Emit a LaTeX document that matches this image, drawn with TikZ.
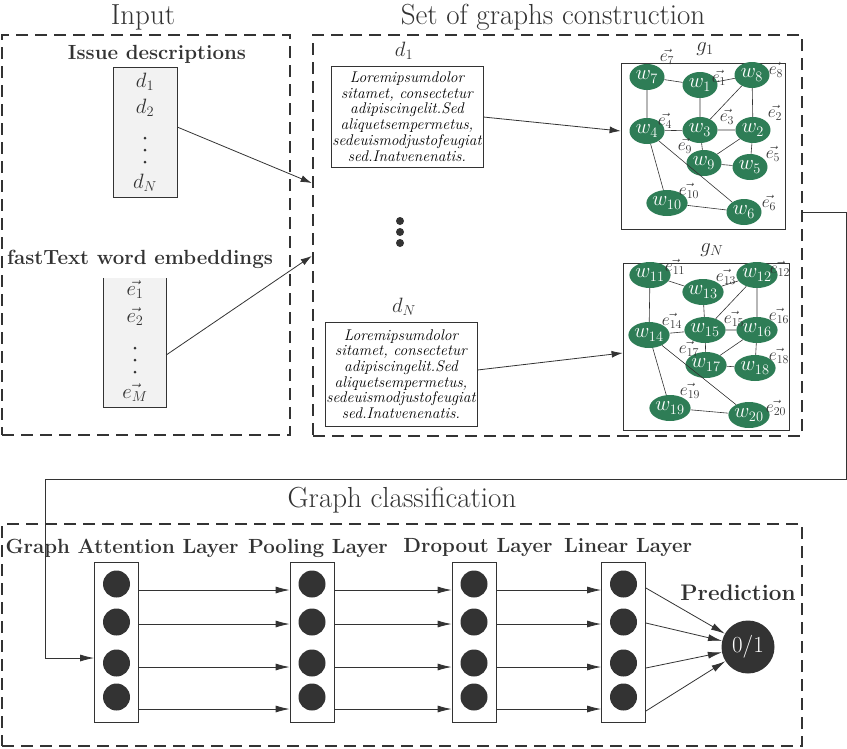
\documentclass[tikz,border=0pt]{standalone}
\usetikzlibrary{arrows.meta,shapes.geometric}
\definecolor{gnode}{RGB}{46,125,86}
\definecolor{dark}{RGB}{51,51,51}
\definecolor{lightfill}{RGB}{242,242,242}
\begin{document}
\begin{tikzpicture}[x=1pt,y=-1pt,
  dashbox/.style={draw=dark, line width=2.6pt, dash pattern=on 12pt off 7pt, inner sep=0pt},
  ttl/.style={font=\fontsize{29}{33}\selectfont, text=dark, inner sep=0pt},
  bl/.style={font=\bfseries\fontsize{20.5}{24}\selectfont, text=dark, inner sep=0pt},
  ml/.style={font=\fontsize{20}{22}\selectfont, text=dark, inner sep=0pt},
  wn/.style={ellipse, fill=gnode, text=white, minimum width=35pt, minimum height=26pt, inner sep=0pt, font=\fontsize{21}{22}\selectfont},
  el/.style={font=\fontsize{17}{17}\selectfont, inner sep=0pt, text=dark},
  ge/.style={draw=dark, line width=0.6pt},
  gbox/.style={draw=dark, line width=0.8pt, inner sep=0pt},
  lorem/.style={draw=dark, line width=0.8pt, align=center, inner sep=0pt, font=\itshape\fontsize{15.5}{15.7}\selectfont},
  listbox/.style={fill=lightfill, inner sep=0pt},
  arr/.style={draw=dark, line width=0.8pt, -{Latex[length=11pt,width=7pt]}},
  barr/.style={draw=dark, line width=0.8pt, -{Latex[length=14pt,width=7pt]}},
  layer/.style={draw=dark, line width=0.8pt, minimum width=44pt, minimum height=160pt, inner sep=0pt},
  neuron/.style={circle, fill=dark, minimum size=27pt, inner sep=0pt},
]
\useasboundingbox (0,0) rectangle (847,748);

% ---------- Input ----------
\node[ttl] (tin) at (143,17) {Input};
\node[dashbox, minimum width=288pt, minimum height=400pt] (inbox) at (146,235) {};
\node[bl] (tissue) at (157,54) {Issue descriptions};
\node[listbox, minimum width=63pt, minimum height=129pt] (dbox) at (145.5,132.5) {};
\draw[dark, line width=0.8pt] (dbox.north west) rectangle (dbox.south east);
\node[ml] (d1) at (145,82) {$d_1$};
\node[ml] (d2) at (145,108) {$d_2$};
\fill[dark] (145,138) circle (1.5) (145,150) circle (1.5) (145,162) circle (1.5);
\node[ml] (dn) at (145,183) {$d_N$};

\node[bl] (tfast) at (140,259) {fastText word embeddings};
\node[listbox, minimum width=62pt, minimum height=129pt] (ebox) at (135,342.5) {};
\draw[dark, line width=0.8pt] (ebox.north west) -- (ebox.south west) -- (ebox.south east) -- (ebox.north east);
\node[ml] (e1) at (135,290) {$\vec{e_1}$};
\node[ml] (e2) at (135,317) {$\vec{e_2}$};
\fill[dark] (135,348) circle (1.5) (135,360) circle (1.5) (135,372) circle (1.5);
\node[ml] (em) at (135,393) {$\vec{e_M}$};

% ---------- Set of graphs ----------
\node[ttl] (tset) at (553,17) {Set of graphs construction};
\node[dashbox, minimum width=489pt, minimum height=401pt] (sog) at (557.5,235.5) {};

\node[ml] (ld1) at (404,51) {$d_1$};
\node[lorem, minimum width=152pt, minimum height=101pt] (txt1) at (407,116.5)
  {Loremipsumdolor\\sitamet, consectetur\\adipiscingelit.Sed\\aliquetsempermetus,\\sedeuismodjustofeugiat\\sed.Inatvenenatis.};
\node[ml] (ldn) at (404,307) {$d_N$};
\node[lorem, minimum width=152pt, minimum height=104pt] (txtn) at (401,374)
  {Loremipsumdolor\\sitamet, consectetur\\adipiscingelit.Sed\\aliquetsempermetus,\\sedeuismodjustofeugiat\\sed.Inatvenenatis.};
\fill[dark] (400,221) circle (4) (400,232) circle (4) (400,243) circle (4);

% graph g1
\node[ml] (lg1) at (705,49) {$g_1$};
\node[gbox, minimum width=164pt, minimum height=166pt] (g1) at (703,146) {};
\node[wn] (w7) at (647,77) {$w_{7}$};
\node[wn] (w1) at (700,85) {$w_{1}$};
\node[wn] (w8) at (752,75) {$w_{8}$};
\node[wn] (w4) at (647,131) {$w_{4}$};
\node[wn] (w3) at (700,130) {$w_{3}$};
\node[wn] (w2) at (753,130) {$w_{2}$};
\node[wn] (w9) at (704,163) {$w_{9}$};
\node[wn] (w5) at (750,167) {$w_{5}$};
\node[wn] (w10) at (667,203) {$w_{10}$};
\node[wn] (w6) at (744,212) {$w_{6}$};
\draw[ge] (w7)--(w1) (w7)--(w4) (w1)--(w8) (w1)--(w3) (w8)--(w3) (w8)--(w2)
  (w4)--(w3) (w3)--(w2) (w3)--(w9) (w2)--(w9) (w2)--(w5) (w9)--(w5)
  (w4)--(w10) (w4)--(w6) (w10)--(w6);
\node[el] (le7) at (667,57) {$\vec{e_7}$};
\node[el] (le1) at (719,78) {$\vec{e_1}$};
\node[el] (le8) at (776,70) {$\vec{e_8}$};
\node[el] (le4) at (665,121) {$\vec{e_4}$};
\node[el] (le3) at (727,117) {$\vec{e_3}$};
\node[el] (le2) at (775,113) {$\vec{e_2}$};
\node[el] (le9) at (685,146) {$\vec{e_9}$};
\node[el] (le5) at (773,154) {$\vec{e_5}$};
\node[el] (le10) at (689,191) {$\vec{e_{10}}$};
\node[el] (le6) at (769,203) {$\vec{e_6}$};

% graph gN
\node[ml] (lgn) at (712,250) {$g_N$};
\node[gbox, minimum width=166pt, minimum height=167pt] (gn) at (706,346.5) {};
\node[wn] (w11) at (650,275) {$w_{11}$};
\node[wn] (w13) at (703,292) {$w_{13}$};
\node[wn] (w12) at (757,275) {$w_{12}$};
\node[wn] (w14) at (649,335) {$w_{14}$};
\node[wn] (w15) at (705,330) {$w_{15}$};
\node[wn] (w16) at (757,330) {$w_{16}$};
\node[wn] (w17) at (706,365) {$w_{17}$};
\node[wn] (w18) at (755,368) {$w_{18}$};
\node[wn] (w19) at (670,408) {$w_{19}$};
\node[wn] (w20) at (749,415) {$w_{20}$};
\draw[ge] (w11)--(w13) (w11)--(w14) (w13)--(w12) (w13)--(w15) (w12)--(w15) (w12)--(w16)
  (w14)--(w15) (w15)--(w16) (w15)--(w17) (w16)--(w17) (w16)--(w18) (w17)--(w18)
  (w14)--(w19) (w14)--(w20) (w19)--(w20);
\node[el] (le11) at (675,267) {$\vec{e_{11}}$};
\node[el] (le13) at (726,277) {$\vec{e_{13}}$};
\node[el] (le12) at (780,269) {$\vec{e_{12}}$};
\node[el] (le14) at (672,321) {$\vec{e_{14}}$};
\node[el] (le15) at (734,319) {$\vec{e_{15}}$};
\node[el] (le16) at (779,316) {$\vec{e_{16}}$};
\node[el] (le17) at (689,349) {$\vec{e_{17}}$};
\node[el] (le18) at (779,356) {$\vec{e_{18}}$};
\node[el] (le19) at (690,391) {$\vec{e_{19}}$};
\node[el] (le20) at (776,408) {$\vec{e_{20}}$};

% arrows in top part
\draw[arr] (dbox.east |- 0,127) -- (sog.west |- 0,183);
\draw[arr] (ebox.east |- 0,355) -- (sog.west |- 0,256);
\draw[arr] (txt1.east |- 0,117) -- (g1.west |- w4);
\draw[arr] (txtn.east |- 0,370) -- (gn.west |- 0,353);

% ---------- Graph classification ----------
\node[ttl] (tcls) at (402,500) {Graph classification};
\node[dashbox, minimum width=800pt, minimum height=222pt] (clsbox) at (402,635) {};

\node[bl] (lgat) at (122,548) {Graph Attention Layer};
\node[bl] (lpool) at (318,548) {Pooling Layer};
\node[bl] (ldrop) at (478,548) {Dropout Layer};
\node[bl] (llin) at (628,548) {Linear Layer};
\node[font=\bfseries\fontsize{22.5}{26}\selectfont, text=dark, inner sep=0pt] (lpred) at (738,593) {Prediction};

\node[layer] (gat) at (116.5,642) {};
\node[layer] (pool) at (312,642) {};
\node[layer] (drop) at (474,642) {};
\node[layer] (lin) at (623.5,642) {};
\foreach \L in {gat,pool,drop,lin}{
  \node[neuron] (\L1) at (\L |- 0,584) {};
  \node[neuron] (\L2) at (\L |- 0,622) {};
  \node[neuron] (\L3) at (\L |- 0,663) {};
  \node[neuron] (\L4) at (\L |- 0,697) {};
}
\node[circle, fill=dark, minimum size=53pt, inner sep=0pt, text=white, font=\fontsize{23}{24}\selectfont] (pred) at (748,647) {0/1};

\coordinate (r1) at (0,590);
\coordinate (r2) at (0,624);
\coordinate (r3) at (0,667);
\coordinate (r4) at (0,709);
\foreach \r in {r1,r2,r3,r4}{
  \draw[barr] (gat.east |- \r) -- (pool.west |- \r);
  \draw[barr] (pool.east |- \r) -- (drop.west |- \r);
  \draw[barr] (drop.east |- \r) -- (lin.west |- \r);
}
\draw[barr] (lin.east |- 0,588) -- (pred);
\draw[barr] (lin.east |- 0,623) -- (pred);
\draw[barr] (lin.east |- 0,668) -- (pred);
\draw[barr] (lin.east |- 0,711) -- (pred);

% long connector
\coordinate (k1) at (846,212);
\coordinate (k2) at (846,479);
\coordinate (k3) at (45,479);
\coordinate (k4) at (45,658);
\draw[barr] (sog.east |- k1) -- (k1) -- (k2) -- (k3) -- (k4) -- (gat.west |- k4);
\end{tikzpicture}
\end{document}
